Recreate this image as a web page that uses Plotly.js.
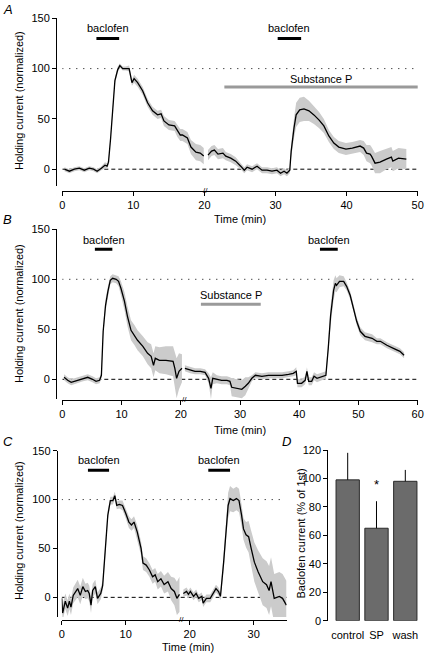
<!DOCTYPE html>
<html><head><meta charset="utf-8">
<script src="https://cdn.plot.ly/plotly-3.0.1.min.js"></script>
<style>html,body{margin:0;padding:0;background:#fff}#chart{width:425px;height:657px}</style>
</head><body><div id="chart"></div>
<script>
// ---------- Panel A ----------
const tA1 = [0.3,1.0,1.7,2.4,3.1,3.8,4.4,4.9,5.5,6.0,6.3,6.5,6.8,7.1,7.4,7.8,8.1,8.5,8.9,9.4,9.8,10.1,10.6,11.3,12.0,12.7,13.4,13.9,14.3,15.0,15.8,16.2,16.6,16.9,17.6,18.1,18.8,19.4,19.9];
const vA1 = [0,-2,0,1,-1,1,0,-2,1,4,3,7,31,64,88,99,103,100,100,100,86,90,86,78,66,58,54,55,48,44,43,38,34,34,31,22,17,16,13];
const eA1 = [2,2,2,2,2,2,2,2,2,3,3,3,4,4,3,3,2,2,2,3,3,4,4,4,4,4,4,4,5,5,5,6,6,6,6,7,8,8,8];
const tA2 = [20.5,21.0,21.4,21.9,22.6,23.0,23.7,24.4,25.1,25.6,26.0,26.7,27.4,28.1,28.8,29.5,30.2,30.7,31.2,31.6,32.0,32.2,32.6,32.9,33.4,34.0,34.7,35.4,36.1,36.8,37.5,38.2,38.9,39.9,40.8,41.9,42.4,42.8,43.3,43.5,44.0,44.7,45.6,46.3,46.5,47.3,48.4];
const vA2 = [14,18,19,15,16,13,11,8,3,-1,2,0,3,-1,-1,-2,-1,-4,-2,-4,-1,18,41,54,59,60,58,54,49,43,33,26,22,20,21,23,21,16,15,13,6,7,10,12,8,11,10];
const eA2 = [5,5,5,5,5,4,4,4,3,3,3,3,3,3,3,3,3,3,3,3,3,6,10,12,12,12,10,9,8,7,6,6,6,6,6,6,7,8,9,9,10,11,10,10,10,10,10];
const baclofenA = [[4.8,8.0],[30.3,33.6]];
const substancePA = [22.8,50.1];

// ---------- Panel B ----------
const tB1 = [0.3,0.9,1.5,2.1,2.6,3.5,4.3,5.1,5.7,6.3,6.6,6.9,7.3,7.7,8.1,8.5,9.1,9.5,9.9,10.5,11.0,11.6,12.2,12.7,13.6,14.4,15.0,15.4,15.7,16.4,17.5,18.7,19.0,19.3,19.7,20.2];
const vB1 = [2,-1,-3,-2,-1,1,2,0,-2,-1,4,48,74,88,99,101,100,98,91,78,63,49,44,39,33,26,23,14,21,19,19,18,11,1,8,11];
const eB1 = [3,3,3,3,3,3,3,3,3,3,3,5,6,5,4,4,4,5,7,9,10,10,10,10,10,11,12,12,12,13,14,15,16,20,18,14];
const tB2 = [20.7,21.6,22.4,23.3,24.1,24.7,25.1,25.4,26.1,26.9,27.8,28.3,28.6,29.5,30.3,30.9,31.4,32.0,32.6,33.7,34.8,35.9,37.1,38.2,39.0,39.5,39.7,40.4,41.0,41.3,41.6,42.1,42.5,43.0,43.8,44.5,44.9,45.3,45.8,46.1,46.3,46.8,47.5,48.0,48.6,49.2,49.7,50.3,51.1,52.3,53.1,53.7,54.8,55.9,57.0,57.7];
const vB2 = [11,9,8,8,7,1,-9,1,0,-1,-1,-2,-8,-9,-10,-7,-4,1,4,3,4,4,4,5,6,8,-4,-4,-1,8,-2,-2,3,1,3,4,31,64,89,96,94,98,98,93,84,71,58,48,43,41,38,38,34,31,28,24];
const eB2 = [3,3,3,3,3,5,11,6,4,4,4,4,9,9,9,9,6,3,3,3,3,3,3,3,3,4,4,4,4,4,4,4,4,4,4,4,8,10,10,8,7,6,5,4,4,4,4,4,4,4,3,3,3,3,3,3];
const baclofenB = [[5.5,8.45],[43.5,46.5]];
const substancePB = [23.4,33.5];

// ---------- Panel C ----------
const tC1 = [0.0,0.15,0.56,0.93,1.2,1.45,1.8,2.5,2.9,3.3,3.7,4.06,4.3,4.58,4.84,5.25,5.6,6.1,6.4,6.8,7.2,7.6,8.0,8.3,8.6,9.0,9.5,10.0,10.5,10.9,11.3,11.8,12.4,12.7,13.2,13.7,14.2,14.6,15.0,15.5,16.0,16.6,17.1,17.6,18.0,18.4];
const vC1 = [-1,-16,-4,-11,-4,-10,2,9,2,11,6,7,4,-8,7,11,-1,4,12,46,84,99,99,104,94,95,94,86,77,74,77,67,50,35,33,28,21,23,16,19,13,16,9,6,-1,3];
const eC1 = [8,8,8,8,8,8,8,9,9,9,8,8,8,8,7,7,6,6,5,5,5,4,4,4,4,4,5,5,6,6,6,7,7,7,7,7,7,7,8,8,9,10,12,14,17,18];
const tC2 = [19.0,19.5,19.8,20.1,20.6,21.0,21.4,21.9,22.1,22.6,23.2,23.6,24.1,24.5,24.8,25.3,25.7,26.0,26.3,26.8,27.3,27.7,28.1,28.4,28.8,29.2,29.6,30.1,30.7,31.4,32.0,32.4,32.7,33.2,34.0,34.5,35.1];
const vC2 = [4,6,3,6,1,4,-1,1,-6,-1,-1,4,9,6,1,36,74,94,101,99,101,99,84,70,64,62,50,36,26,16,13,7,16,-1,1,-1,-8];
const eC2 = [4,4,4,4,4,4,4,4,4,4,4,4,4,4,4,8,12,13,13,12,12,12,11,11,13,16,18,20,22,24,24,25,25,25,25,25,25];
const baclofenC = [[4.1,7.4],[22.9,26.3]];

// ---------- Panel D ----------
const dCats = ['control','SP','wash'];
const dVals = [99,65,98];
const dErr = [19,19,8];

const W=425, H=657;
const px = v => v/W;
const py = v => 1 - v/H;
const FONT = 'Liberation Sans, Arial, sans-serif';

function seg(t,v,e,xa,ya){
  const up = v.map((m,i)=>m+e[i]);
  const lo = v.map((m,i)=>m-e[i]);
  return [
    {x:t.concat(t.slice().reverse()), y:up.concat(lo.slice().reverse()), xaxis:xa, yaxis:ya,
     type:'scatter', mode:'lines', fill:'toself', fillcolor:'#cbcbcb',
     line:{width:0,color:'rgba(0,0,0,0)'}, hoverinfo:'skip', showlegend:false},
    {x:t, y:v, xaxis:xa, yaxis:ya, type:'scatter', mode:'lines',
     line:{color:'#000',width:1.3}, showlegend:false}
  ];
}

const traces = [].concat(
  seg(tA1,vA1,eA1,'x','y'), seg(tA2,vA2,eA2,'x','y'),
  seg(tB1,vB1,eB1,'x2','y2'), seg(tB2,vB2,eB2,'x2','y2'),
  seg(tC1,vC1,eC1,'x3','y3'), seg(tC2,vC2,eC2,'x3','y3'),
  [{type:'bar', x:dCats, y:dVals, xaxis:'x4', yaxis:'y4',
    marker:{color:'#6b6b6b', line:{color:'#2a2a2a', width:1}},
    error_y:{type:'data', symmetric:false, array:dErr, arrayminus:[0,0,0], color:'#000', thickness:1, width:0},
    showlegend:false}]
);

const axBase = {showline:true, linecolor:'#000', linewidth:1, ticks:'outside', ticklen:4, tickwidth:1,
  tickcolor:'#000', showgrid:false, zeroline:false, tickfont:{family:FONT,size:11,color:'#000'}, fixedrange:true};

function xAx(d0,d1,range,tv,pos){ return Object.assign({}, axBase, {domain:[px(d0),px(d1)], range:range, tickvals:tv, anchor:'free', position:py(pos)}); }
function yAx(top,bottom,range,tv,pos){ return Object.assign({}, axBase, {domain:[py(bottom),py(top)], range:range, tickvals:tv, anchor:'free', position:px(pos)}); }

const shapes = [];
const annotations = [];
function refLines(xr, yr, xEndDot, xEndDash){
  shapes.push({type:'line', xref:xr, yref:yr, x0:0, x1:xEndDot, y0:100, y1:100, layer:'below', line:{color:'#000', width:1, dash:'1px,6px'}});
  shapes.push({type:'line', xref:xr, yref:yr, x0:0, x1:xEndDash, y0:0, y1:0, layer:'below', line:{color:'#000', width:1, dash:'4px,3px'}});
}
function stim(list, xr, yr, yBar, yText, label, color){
  list.forEach(b => {
    shapes.push({type:'line', xref:xr, yref:yr, x0:b[0], x1:b[1], y0:yBar, y1:yBar, line:{color:color, width:3}});
    annotations.push({xref:xr, yref:yr, x:(b[0]+b[1])/2, y:yText, text:label, showarrow:false, font:{family:FONT,size:11,color:'#000'}});
  });
}
refLines('x','y',49.4,50);
refLines('x2','y2',59.3,60);
refLines('x3','y3',34.9,35.15);
stim(baclofenA,'x','y',130,140,'baclofen','#000');
stim([substancePA],'x','y',81.6,90,'Substance P','#9a9a9a');
stim(baclofenB,'x2','y2',130,139.5,'baclofen','#000');
stim([substancePB],'x2','y2',75,84,'Substance P','#9a9a9a');
stim(baclofenC,'x3','y3',130,140,'baclofen','#000');

function txt(x,y,text,opts){ annotations.push(Object.assign({xref:'paper', yref:'paper', x:px(x), y:py(y), text:text, showarrow:false, xanchor:'center', yanchor:'middle', font:{family:FONT,size:11,color:'#000'}}, opts||{})); }
// panel letters
txt(8,9,'<i>A</i>',{font:{family:FONT,size:13,color:'#000'}});
txt(7.5,219.5,'<i>B</i>',{font:{family:FONT,size:13,color:'#000'}});
txt(7.5,441.5,'<i>C</i>',{font:{family:FONT,size:13,color:'#000'}});
txt(286,441,'<i>D</i>',{font:{family:FONT,size:13,color:'#000'}});
// axis titles
txt(19,101,'Holding current (normalized)',{textangle:-90});
txt(19,314,'Holding current (normalized)',{textangle:-90});
txt(19,531,'Holding current (normalized)',{textangle:-90});
txt(300,533.5,'Baclofen current (% of 1st)',{textangle:-90});
txt(240,219,'Time (min)');
txt(240,430,'Time (min)');
txt(187.5,647,'Time (min)');
// axis break marks
txt(205.5,190.5,'//',{font:{family:FONT,size:8,color:'#000'}});
txt(184.5,399.5,'//',{font:{family:FONT,size:8,color:'#000'}});
txt(181.5,619.5,'//',{font:{family:FONT,size:8,color:'#000'}});
// significance
annotations.push({xref:'x4', yref:'y4', x:'SP', y:96, text:'*', showarrow:false, font:{family:FONT,size:13,color:'#000'}});

const layout = {
  width:W, height:H, margin:{l:0,r:0,t:0,b:0}, paper_bgcolor:'#fff', plot_bgcolor:'rgba(0,0,0,0)',
  font:{family:FONT,size:11,color:'#000'}, showlegend:false, bargap:0.19,
  xaxis: xAx(62.3,417.7,[0,50],[0,10,20,30,40,50],190.7),
  yaxis: yAx(18.3,186.3,[-17,150],[0,50,100,150],56),
  xaxis2: xAx(62.3,417.7,[0,60],[0,10,20,30,40,50,60],400),
  yaxis2: yAx(229.3,399.3,[-20,150],[0,50,100,150],56),
  xaxis3: xAx(61.7,286.7,[0,35.15],[0,10,20,30],620),
  yaxis3: yAx(450.7,616.9,[-20,150],[0,50,100,150],56.7),
  xaxis4: Object.assign({}, axBase, {domain:[px(333.3),px(419.7)], range:[-0.5,2.5], type:'category', showline:false, ticks:'outside', tickcolor:'rgba(0,0,0,0)', ticklen:4, anchor:'free', position:py(620.7)}),
  yaxis4: yAx(450,620.7,[0,120],[0,20,40,60,80,100,120],327.3),
  shapes:shapes, annotations:annotations
};
Plotly.newPlot('chart', traces, layout, {displayModeBar:false, staticPlot:true});
</script></body></html>
